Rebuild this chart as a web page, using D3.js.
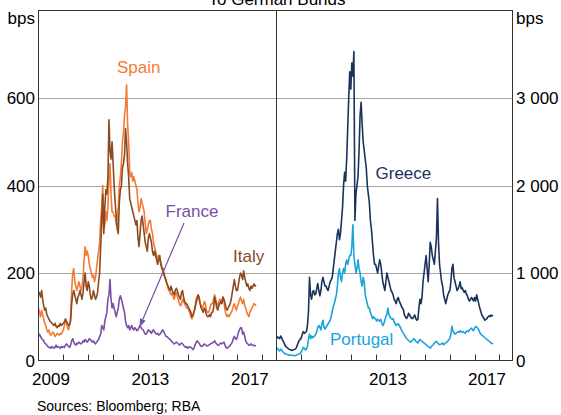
<!DOCTYPE html>
<html><head><meta charset="utf-8">
<script src="https://cdn.jsdelivr.net/npm/d3@7"></script>
<style>html,body{margin:0;padding:0;background:#fff;}svg{display:block;font-family:"Liberation Sans",Arial,sans-serif;}</style>
</head><body>
<svg id="c" width="561" height="415"></svg>
<script>
// Semi-monthly observations starting January 2009 (two per month)
const startYear = 2009;
const stepsPerYear = 24;

const italy = [
150,155,145,160,140,125,115,120,105,100,95,90,88,85,82,80,85,78,75,80,78,85,80,82,
85,88,95,90,85,80,82,90,130,150,160,150,140,130,145,150,160,150,140,155,180,200,170,160,
180,170,150,140,145,160,150,140,145,155,180,200,260,320,380,290,350,390,380,420,550,480,460,500,
450,400,360,330,300,290,360,390,400,440,450,470,530,500,450,420,370,360,350,340,330,320,310,320,
280,260,290,320,330,310,290,270,260,250,280,290,280,270,250,240,250,240,230,220,230,240,220,210,
210,200,190,185,175,170,165,160,170,160,155,150,160,165,160,150,145,140,155,160,145,135,130,130,
125,120,115,110,100,105,110,120,130,140,150,145,130,120,115,110,120,115,105,100,100,105,100,110,
110,120,145,135,120,115,125,130,135,130,145,140,130,120,115,120,125,130,140,155,170,185,170,160,
160,175,190,200,195,185,205,190,180,170,175,165,160,170,165,170,175,170,172];

const spain = [
120,110,100,115,105,95,85,80,70,65,70,60,58,62,65,60,55,58,62,60,58,62,60,65,
70,80,90,85,75,70,80,100,160,200,210,180,170,160,170,180,170,160,170,190,230,260,240,250,
240,220,210,200,190,195,180,190,210,230,250,270,320,350,400,300,310,340,320,350,420,450,380,340,
340,330,330,310,330,350,400,420,450,500,520,560,580,630,540,500,430,420,430,410,420,410,400,390,
360,340,350,370,360,350,340,310,290,300,310,320,320,300,290,270,260,250,240,230,240,235,225,215,
200,195,190,180,175,165,160,155,150,155,145,140,150,155,145,140,130,125,130,140,135,130,125,120,
120,115,110,100,95,100,110,120,140,145,150,140,130,125,120,125,135,130,115,110,110,115,125,130,
130,140,150,140,130,125,135,140,140,135,145,135,115,105,100,105,100,105,110,115,125,130,120,115,
125,130,140,145,135,130,140,125,120,110,105,100,110,115,120,125,130,128,125];

const france = [
55,60,55,50,48,45,40,38,35,32,30,30,28,32,30,28,30,35,30,32,30,28,32,30,
32,30,35,38,35,32,30,35,45,50,42,38,35,40,38,42,40,38,40,45,42,48,45,42,
45,50,48,45,42,45,40,38,42,45,48,55,60,80,75,70,90,100,110,140,150,185,140,120,
130,120,110,100,110,120,140,148,140,130,120,110,90,80,75,80,70,75,80,72,70,75,72,68,
70,75,80,75,72,70,65,60,60,65,70,68,65,62,68,70,65,62,60,62,58,60,62,68,
70,65,60,55,55,52,50,48,45,42,40,38,40,42,40,38,35,38,40,38,35,32,30,32,
28,30,32,30,28,25,28,35,40,45,42,40,35,32,33,35,38,36,34,33,35,36,38,40,
40,42,45,40,38,35,35,38,40,38,40,42,35,30,28,30,32,35,38,42,50,55,50,48,
55,65,70,75,75,60,65,55,45,40,38,35,35,38,36,34,35,34,33];

const greece = [
250,270,260,250,280,260,230,210,180,160,150,140,130,125,120,115,120,125,130,140,170,200,230,240,
260,300,330,310,320,330,400,560,950,750,700,780,800,750,760,820,880,800,740,800,900,950,900,850,
850,820,800,850,900,920,950,1050,1150,1250,1350,1450,1500,1380,1450,1600,1750,2000,2150,2050,2300,2650,3000,3300,
3100,3400,3250,3530,1600,1900,2000,2100,2400,2800,2950,2700,2500,2400,2300,2200,2000,1900,1800,1600,1500,1350,1200,1100,
1100,1050,1000,1080,1150,1100,1000,900,850,800,900,1000,950,900,850,800,780,750,700,680,650,700,720,680,
650,620,600,580,520,500,480,500,540,520,500,480,480,500,520,480,460,470,600,700,650,720,900,1000,
1100,1200,1050,900,1100,1350,1300,1200,1150,1100,1250,1400,1850,1350,1100,1000,900,850,750,700,650,700,750,780,
800,900,1050,1100,950,900,850,800,820,850,900,820,830,800,780,800,760,740,700,680,700,720,700,680,
720,680,750,700,650,600,560,520,500,480,460,470,480,500,510,500,520,510,515];

const portugal = [
130,140,120,110,130,120,100,90,80,75,70,65,60,62,58,60,60,58,55,60,65,70,75,80,
100,120,150,140,120,130,160,250,300,250,280,260,270,280,300,330,380,400,380,350,420,460,380,360,
380,400,420,440,460,500,560,620,650,700,750,850,1000,1050,950,900,1000,1050,1000,1100,1150,1100,1150,1200,
1200,1300,1550,1200,1100,1000,1050,1150,1050,1000,900,850,950,900,750,700,650,600,600,550,520,480,500,480,
480,450,470,460,450,470,430,400,420,460,500,530,600,520,500,480,470,480,440,420,400,410,420,400,
380,350,330,310,290,270,250,240,230,220,210,220,230,250,240,220,210,200,220,240,230,220,210,200,
190,180,170,160,150,140,160,170,180,200,210,220,200,190,180,185,190,200,180,190,200,210,220,240,
250,300,390,340,320,300,310,320,330,320,340,330,320,330,320,310,330,340,330,350,360,370,350,340,
370,390,380,370,350,320,300,290,280,270,260,250,240,230,220,210,200,195,190];

const leftTicks = [0, 200, 400, 600];
const leftTickLabels = ["0", "200", "400", "600"];
const rightTicks = [0, 1000, 2000, 3000];
const rightTickLabels = ["0", "1 000", "2 000", "3 000"];
const yearTicks = [2010, 2011, 2012, 2013, 2014, 2015, 2016, 2017, 2018];
const leftYearLabels = [2009, 2013, 2017];
const rightYearLabels = [2013, 2017];

const colors = {spain:"#f47a36", italy:"#8b4a1f", france:"#7b4fa5", greece:"#1b335c", portugal:"#1aa3dc"};

(function () {
const svg = d3.select("#c");
const yTop = 10.5, yBot = 360.5, L = 38.5, M = 276.5, R = 512.5;

const xL = d3.scaleLinear().domain([2009, 2018.57]).range([L, M]);
const xR = d3.scaleLinear().domain([2009, 2018.53]).range([M, R]);
const yL = d3.scaleLinear().domain([0, 800]).range([yBot, yTop]);
const yR = d3.scaleLinear().domain([0, 4000]).range([yBot, yTop]);

// gridlines
svg.append("g").selectAll("line").data(leftTicks.slice(1)).join("line")
  .attr("x1", L).attr("x2", R)
  .attr("y1", d => Math.round(yL(d)) + 0.5).attr("y2", d => Math.round(yL(d)) + 0.5)
  .attr("stroke", "#a6a6a6").attr("stroke-width", 1);

function series(vals, x, y, color) {
  const line = d3.line().x((d, i) => x(startYear + i / stepsPerYear)).y(d => y(d));
  svg.append("path").datum(vals).attr("d", line).attr("fill", "none")
    .attr("stroke", color).attr("stroke-width", 1.6).attr("stroke-linejoin", "round");
}
series(france, xL, yL, colors.france);
series(spain, xL, yL, colors.spain);
series(italy, xL, yL, colors.italy);
series(portugal, xR, yR, colors.portugal);
series(greece, xR, yR, colors.greece);

// frame
svg.append("rect").attr("x", L).attr("y", yTop).attr("width", R - L).attr("height", yBot - yTop)
  .attr("fill", "none").attr("stroke", "#333").attr("stroke-width", 1);
svg.append("line").attr("x1", M).attr("x2", M).attr("y1", yTop).attr("y2", yBot)
  .attr("stroke", "#333").attr("stroke-width", 1);

// x ticks (inside, upward)
[xL, xR].forEach(x => {
  svg.append("g").selectAll("line").data(yearTicks).join("line")
    .attr("x1", d => Math.round(x(d)) + 0.5).attr("x2", d => Math.round(x(d)) + 0.5)
    .attr("y1", yBot).attr("y2", yBot - 6).attr("stroke", "#333");
});

const fs = 17;
svg.append("g").selectAll("text").data(leftYearLabels).join("text")
  .attr("x", d => xL(d + 0.5)).attr("y", 385).attr("text-anchor", "middle")
  .attr("font-size", fs).text(d => d);
svg.append("g").selectAll("text").data(rightYearLabels).join("text")
  .attr("x", d => xR(d + 0.5)).attr("y", 385).attr("text-anchor", "middle")
  .attr("font-size", fs).text(d => d);

// y labels
svg.append("g").selectAll("text").data(leftTicks).join("text")
  .attr("x", 35).attr("y", d => yL(d)).attr("dy", "0.36em").attr("text-anchor", "end")
  .attr("font-size", fs).text((d, i) => leftTickLabels[i]);
svg.append("g").selectAll("text").data(rightTicks).join("text")
  .attr("x", 516).attr("y", d => yR(d)).attr("dy", "0.36em").attr("text-anchor", "start")
  .attr("font-size", fs).text((d, i) => rightTickLabels[i]);
svg.append("text").attr("x", 35).attr("y", 24).attr("text-anchor", "end").attr("font-size", fs).text("bps");
svg.append("text").attr("x", 516).attr("y", 24).attr("text-anchor", "start").attr("font-size", fs).text("bps");

// title (partially cropped at top)
svg.append("text").attr("x", 277).attr("y", 5).attr("text-anchor", "middle").attr("font-size", fs).text("To German Bunds");

// series labels
const lab = (t, x, y, c) => svg.append("text").attr("x", x).attr("y", y).attr("font-size", fs).attr("fill", c).text(t);
lab("Spain", 117, 73, colors.spain);
lab("France", 165.5, 217, colors.france);
lab("Italy", 233, 262, colors.italy);
lab("Greece", 375.5, 179, colors.greece);
lab("Portugal", 330, 344.5, colors.portugal);

// France arrow
svg.append("defs").append("marker").attr("id", "ah").attr("viewBox", "0 0 10 10")
  .attr("refX", 9).attr("refY", 5).attr("markerWidth", 8).attr("markerHeight", 8)
  .attr("markerUnits", "userSpaceOnUse").attr("orient", "auto")
  .append("path").attr("d", "M0,1 L10,5 L0,9 Z").attr("fill", colors.france);
svg.append("line").attr("x1", 184).attr("y1", 223).attr("x2", 140).attr("y2", 326)
  .attr("stroke", colors.france).attr("stroke-width", 1.2).attr("marker-end", "url(#ah)");

svg.append("text").attr("x", 37).attr("y", 411).attr("font-size", 14).text("Sources: Bloomberg; RBA");
})();
</script>
</body></html>
